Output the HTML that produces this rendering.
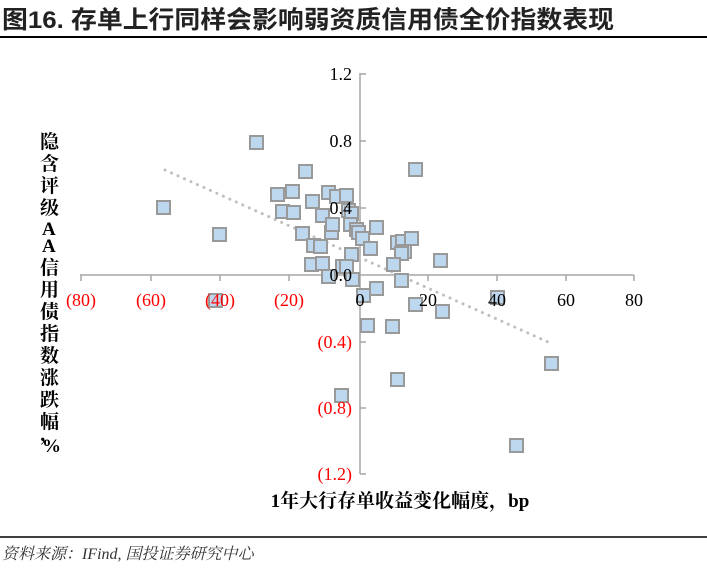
<!DOCTYPE html><html><head><meta charset="utf-8"><style>
body{margin:0;background:#fff;width:707px;height:571px;overflow:hidden;font-family:"Liberation Serif","Noto Serif CJK SC",serif}
</style></head><body>
<svg width="707" height="571" xmlns="http://www.w3.org/2000/svg">
<text x="2" y="28" font-family="'Liberation Sans','Noto Sans CJK SC',sans-serif" font-size="24.5" font-weight="bold" fill="#222" textLength="612" lengthAdjust="spacingAndGlyphs">图16. 存单上行同样会影响弱资质信用债全价指数表现</text>
<line x1="0" y1="37" x2="707" y2="37" stroke="#000" stroke-width="2"/>
<g stroke="#a6a6a6" stroke-width="1.5">
<line x1="360" y1="73" x2="360" y2="474"/>
<line x1="80" y1="275" x2="634" y2="275"/>
<line x1="360" y1="74" x2="366" y2="74"/><line x1="360" y1="141" x2="366" y2="141"/><line x1="360" y1="208" x2="366" y2="208"/><line x1="360" y1="342" x2="366" y2="342"/><line x1="360" y1="408" x2="366" y2="408"/><line x1="360" y1="474" x2="366" y2="474"/>
<line x1="81" y1="275" x2="81" y2="281"/><line x1="151" y1="275" x2="151" y2="281"/><line x1="220" y1="275" x2="220" y2="281"/><line x1="289" y1="275" x2="289" y2="281"/><line x1="428" y1="275" x2="428" y2="281"/><line x1="497" y1="275" x2="497" y2="281"/><line x1="566" y1="275" x2="566" y2="281"/><line x1="634" y1="275" x2="634" y2="281"/>
</g>
<line x1="165" y1="170" x2="548" y2="342" stroke="#bfbfbf" stroke-width="3" stroke-dasharray="0.1 7" stroke-linecap="round"/>
<g fill="#bdd7ee" stroke="#999" stroke-width="2" transform="translate(-1,-1)">
<rect x="251" y="137" width="13" height="13"/><rect x="158" y="202" width="13" height="13"/><rect x="214" y="229" width="13" height="13"/><rect x="300" y="166" width="13" height="13"/><rect x="272" y="189" width="13" height="13"/><rect x="287" y="186" width="13" height="13"/><rect x="277" y="206" width="13" height="13"/><rect x="288" y="207" width="13" height="13"/><rect x="307" y="196" width="13" height="13"/><rect x="323" y="187" width="13" height="13"/><rect x="331" y="191" width="13" height="13"/><rect x="341" y="190" width="13" height="13"/><rect x="317" y="210" width="13" height="13"/><rect x="343" y="205" width="13" height="13"/><rect x="346" y="208" width="13" height="13"/><rect x="297" y="228" width="13" height="13"/><rect x="308" y="240" width="13" height="13"/><rect x="315" y="241" width="13" height="13"/><rect x="326" y="227" width="13" height="13"/><rect x="327" y="219" width="13" height="13"/><rect x="345" y="219" width="13" height="13"/><rect x="351" y="224" width="13" height="13"/><rect x="353" y="227" width="13" height="13"/><rect x="357" y="233" width="13" height="13"/><rect x="371" y="222" width="13" height="13"/><rect x="365" y="243" width="13" height="13"/><rect x="346" y="249" width="13" height="13"/><rect x="392" y="237" width="13" height="13"/><rect x="397" y="236" width="13" height="13"/><rect x="406" y="233" width="13" height="13"/><rect x="399" y="246" width="13" height="13"/><rect x="396" y="248" width="13" height="13"/><rect x="388" y="259" width="13" height="13"/><rect x="435" y="255" width="13" height="13"/><rect x="306" y="259" width="13" height="13"/><rect x="317" y="258" width="13" height="13"/><rect x="337" y="261" width="13" height="13"/><rect x="341" y="261" width="13" height="13"/><rect x="323" y="271" width="13" height="13"/><rect x="347" y="274" width="13" height="13"/><rect x="396" y="275" width="13" height="13"/><rect x="358" y="290" width="13" height="13"/><rect x="371" y="283" width="13" height="13"/><rect x="410" y="164" width="13" height="13"/><rect x="210" y="295" width="13" height="13"/><rect x="410" y="299" width="13" height="13"/><rect x="437" y="306" width="13" height="13"/><rect x="362" y="320" width="13" height="13"/><rect x="387" y="321" width="13" height="13"/><rect x="392" y="374" width="13" height="13"/><rect x="336" y="390" width="13" height="13"/><rect x="546" y="358" width="13" height="13"/><rect x="511" y="440" width="13" height="13"/><rect x="492" y="292" width="13" height="13"/>
</g>
<g font-size="18" text-anchor="end">
<text x="352" y="80" fill="#000">1.2</text><text x="352" y="147" fill="#000">0.8</text><text x="352" y="214" fill="#000">0.4</text><text x="352" y="281" fill="#000">0.0</text>
<text x="352" y="348" fill="#f00">(0.4)</text><text x="352" y="414" fill="#f00">(0.8)</text><text x="352" y="480" fill="#f00">(1.2)</text>
</g>
<g font-size="18" text-anchor="middle">
<text x="81" y="306" fill="#f00">(80)</text><text x="151" y="306" fill="#f00">(60)</text><text x="220" y="306" fill="#f00">(40)</text><text x="289" y="306" fill="#f00">(20)</text>
<text x="360" y="306">0</text><text x="428" y="306">20</text><text x="497" y="306">40</text><text x="566" y="306">60</text><text x="634" y="306">80</text>
</g>
<text font-size="19" font-weight="bold" font-family="'Liberation Serif','Noto Serif CJK SC',serif">
<tspan x="40" y="148">隐</tspan><tspan x="40" y="170">含</tspan><tspan x="40" y="192">评</tspan><tspan x="40" y="214">级</tspan><tspan x="42" y="235">A</tspan><tspan x="42" y="252">A</tspan><tspan x="40" y="274">信</tspan><tspan x="40" y="296">用</tspan><tspan x="40" y="318">债</tspan><tspan x="40" y="340">指</tspan><tspan x="40" y="362">数</tspan><tspan x="40" y="384">涨</tspan><tspan x="40" y="406">跌</tspan><tspan x="40" y="428">幅</tspan><tspan x="40" y="440">，</tspan><tspan x="42" y="452">%</tspan>
</text>
<text x="400" y="507" text-anchor="middle" font-size="19" font-weight="bold">1年大行存单收益变化幅度，bp</text>
<line x1="0" y1="537" x2="707" y2="537" stroke="#000" stroke-width="1.5"/>
<text x="2" y="559" font-size="16" font-style="italic" fill="#333" font-family="'Liberation Serif','Noto Serif CJK SC',serif">资料来源：IFind, 国投证券研究中心</text>
</svg>
</body></html>
